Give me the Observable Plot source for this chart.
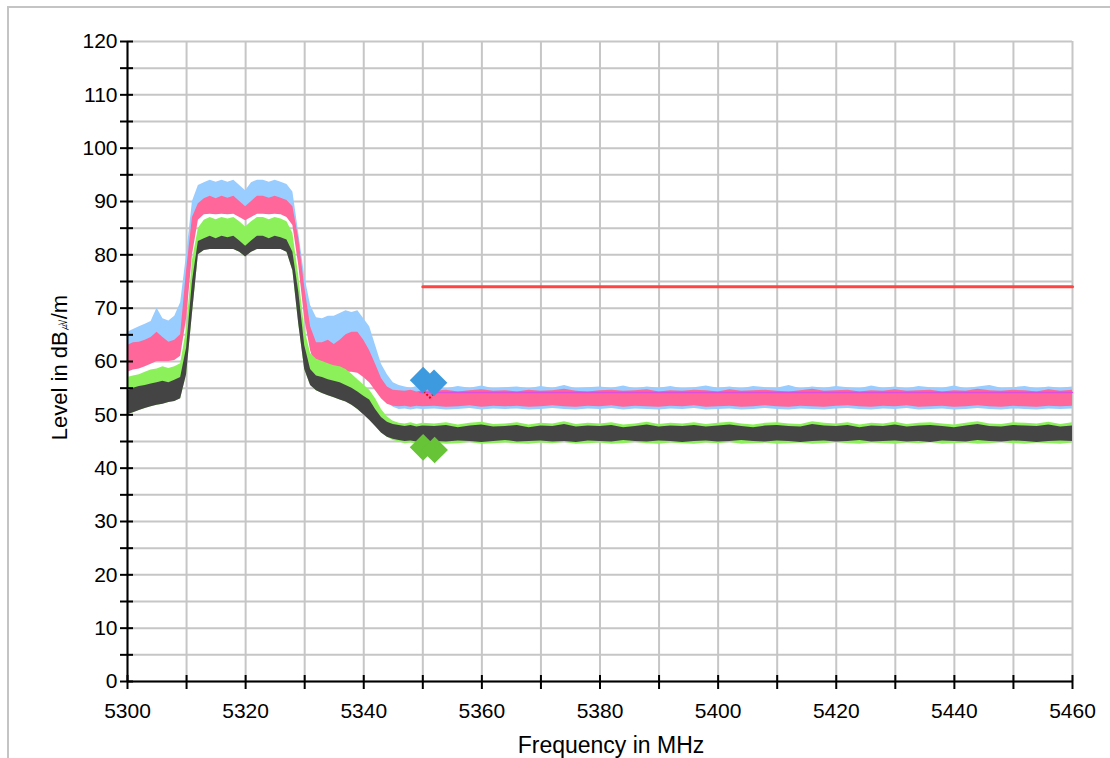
<!DOCTYPE html>
<html>
<head>
<meta charset="utf-8">
<script src="https://cdn.jsdelivr.net/npm/d3@7"></script>
<script src="https://cdn.jsdelivr.net/npm/@observablehq/plot@0.6"></script>
<style>
  html, body { margin: 0; padding: 0; background: white; }
</style>
</head>
<body>
<div id="chart"></div>
<script>
// Sampling grid (MHz)
const freqs = [...d3.range(5300, 5351, 1), ...d3.range(5352, 5461, 2)];

// Traces, read as min/max envelopes (dBµV/m)
const grayLo = [
  50.0, 50.4, 50.8, 51.2, 51.5, 51.8, 52.0, 52.3, 52.5, 53.0,
  57.5, 69.0, 80.0, 80.8, 81.0, 81.0, 81.0, 81.0, 81.0, 80.5,
  79.6, 80.5, 81.0, 81.0, 81.0, 81.0, 81.0, 80.5, 77.0, 67.0,
  58.5, 55.5, 54.5, 54.0, 53.6, 53.2, 52.8, 52.4, 51.8, 51.0,
  50.0, 49.0, 47.8, 46.6, 45.8, 45.4, 45.2, 45.0, 45.1, 44.9, 45.0,
  45.0, 44.9, 45.1, 45.0, 44.8, 45.0, 45.2, 44.9, 45.0, 45.1,
  44.9, 45.0, 44.8, 45.1, 45.0, 44.9, 45.2, 45.0, 44.9, 45.1,
  45.0, 44.8, 45.0, 45.1, 44.9, 45.0, 45.2, 45.0, 44.9, 45.1,
  45.0, 44.8, 45.0, 45.1, 44.9, 45.0, 45.2, 44.9, 45.0, 45.1,
  44.9, 45.0, 44.8, 45.1, 45.0, 44.9, 45.2, 45.0, 44.9, 45.1,
  45.0, 44.8, 45.0, 45.1, 45.0
];
const grayHi = [
  54.5, 55.0, 55.3, 55.5, 55.8, 56.0, 56.3, 56.0, 56.5, 57.0,
  62.5, 75.0, 82.5, 83.0, 83.5, 83.0, 83.5, 83.2, 83.5, 82.6,
  81.6, 82.6, 83.5, 83.5, 83.0, 83.5, 83.2, 82.8, 80.5, 73.0,
  63.0, 58.5, 57.3, 57.0, 56.6, 56.3, 56.0, 55.5, 55.0, 54.3,
  53.5, 52.8, 51.0, 49.5, 48.6, 48.2, 48.0, 47.8, 48.0, 47.7, 47.9,
  47.8, 48.0, 47.6, 47.9, 48.1, 47.7, 47.8, 48.0, 47.6, 47.9,
  47.8, 48.2, 47.7, 47.9, 47.8, 48.0, 47.6, 47.8, 48.1, 47.7,
  47.9, 47.8, 48.0, 47.7, 47.9, 48.1, 47.8, 47.6, 47.9, 48.0,
  47.8, 47.7, 48.2, 47.9, 47.8, 48.0, 47.6, 47.9, 47.8, 48.1,
  47.7, 47.9, 48.0, 47.8, 47.6, 47.9, 48.2, 47.8, 47.7, 48.0,
  47.9, 47.8, 48.1, 47.7, 47.9
];
const greenLo = [
  50.0, 50.4, 50.8, 51.2, 51.5, 51.8, 52.0, 52.3, 52.5, 53.0,
  57.5, 69.0, 80.0, 80.8, 81.0, 81.0, 81.0, 81.0, 81.0, 80.5,
  79.6, 80.5, 81.0, 81.0, 81.0, 81.0, 81.0, 80.5, 77.0, 67.0,
  58.5, 55.5, 54.5, 54.0, 53.6, 53.2, 52.8, 52.4, 51.8, 51.0,
  50.0, 49.0, 47.8, 46.6, 45.8, 45.2, 44.9, 44.6, 44.7, 44.5, 44.6,
  44.7, 44.5, 44.6, 44.8, 44.5, 44.6, 44.7, 44.6, 44.5, 44.7,
  44.6, 44.8, 44.5, 44.6, 44.7, 44.5, 44.6, 44.8, 44.6, 44.5,
  44.7, 44.6, 44.5, 44.7, 44.6, 44.8, 44.5, 44.6, 44.7, 44.5,
  44.6, 44.7, 44.5, 44.6, 44.8, 44.6, 44.5, 44.7, 44.6, 44.5,
  44.7, 44.6, 44.8, 44.5, 44.6, 44.7, 44.5, 44.6, 44.8, 44.6,
  44.5, 44.7, 44.6, 44.5, 44.7
];
const greenHi = [
  57.0, 57.3, 57.5, 58.0, 58.4, 58.6, 59.0, 58.7, 59.0, 59.6,
  66.0, 79.0, 85.0, 86.5, 87.0, 86.6, 87.0, 86.7, 87.0, 86.2,
  85.2, 86.2, 87.0, 87.0, 86.6, 87.0, 86.7, 86.2, 84.0, 76.0,
  66.0, 61.5, 60.4, 60.0, 59.6, 59.2, 59.0, 58.5, 57.6, 56.6,
  55.6, 54.6, 53.0, 51.0, 49.6, 48.8, 48.4, 48.3, 48.5, 48.2, 48.4,
  48.3, 48.5, 48.1, 48.4, 48.6, 48.2, 48.3, 48.5, 48.1, 48.4,
  48.3, 48.7, 48.2, 48.4, 48.3, 48.5, 48.1, 48.3, 48.6, 48.2,
  48.4, 48.3, 48.5, 48.2, 48.4, 48.6, 48.3, 48.1, 48.4, 48.5,
  48.3, 48.2, 48.7, 48.4, 48.3, 48.5, 48.1, 48.4, 48.3, 48.6,
  48.2, 48.4, 48.5, 48.3, 48.1, 48.4, 48.7, 48.3, 48.2, 48.5,
  48.4, 48.3, 48.6, 48.2, 48.5
];
const pinkLo = [
  58.0, 58.4, 58.6, 59.0, 59.5, 60.0, 60.0, 60.0, 60.2, 61.0,
  68.0, 80.0, 86.5, 87.5, 87.6, 87.5, 87.6, 87.5, 87.6, 87.0,
  86.4, 87.0, 87.6, 87.6, 87.5, 87.6, 87.5, 87.0, 85.5, 78.0,
  68.0, 62.0, 58.6, 58.2, 58.0, 57.6, 57.6, 58.0, 58.0, 57.8,
  57.0, 56.0, 54.5, 53.0, 52.0, 51.6, 51.5, 51.6, 51.4, 51.6, 51.5,
  51.6, 51.4, 51.5, 51.7, 51.4, 51.6, 51.5, 51.6, 51.4, 51.5,
  51.7, 51.5, 51.4, 51.6, 51.5, 51.7, 51.4, 51.6, 51.5, 51.4,
  51.6, 51.5, 51.7, 51.4, 51.5, 51.6, 51.4, 51.5, 51.7, 51.5,
  51.4, 51.6, 51.5, 51.4, 51.6, 51.7, 51.5, 51.4, 51.6, 51.5,
  51.7, 51.4, 51.5, 51.6, 51.4, 51.5, 51.7, 51.5, 51.4, 51.6,
  51.5, 51.4, 51.6, 51.5, 51.6
];
const pinkHi = [
  63.0, 63.5, 63.6, 64.0, 64.5, 65.5, 64.5, 63.6, 64.0, 65.0,
  77.0, 87.0, 89.6, 90.5, 91.0, 90.5, 91.0, 90.6, 91.0, 90.0,
  89.0, 90.0, 91.0, 91.0, 90.6, 91.0, 90.6, 90.2, 89.0, 83.0,
  74.0, 66.5, 63.5, 63.5, 64.0, 63.2, 64.0, 65.0, 65.5, 65.5,
  64.0, 62.0, 59.5, 56.8, 55.2, 54.6, 54.5, 54.4, 54.6, 54.3, 54.5,
  54.4, 54.6, 54.3, 54.5, 54.7, 54.4, 54.5, 54.3, 54.6, 54.4,
  54.5, 54.8, 54.4, 54.3, 54.5, 54.6, 54.4, 54.5, 54.7, 54.3,
  54.5, 54.4, 54.6, 54.5, 54.3, 54.7, 54.4, 54.5, 54.6, 54.4,
  54.3, 54.5, 54.8, 54.4, 54.5, 54.6, 54.3, 54.5, 54.4, 54.7,
  54.4, 54.5, 54.6, 54.3, 54.5, 54.4, 54.8, 54.5, 54.4, 54.6,
  54.5, 54.3, 54.7, 54.4, 54.6
];
const blueLo = [
  59.0, 59.4, 59.6, 60.0, 60.5, 61.0, 61.0, 61.0, 61.2, 62.0,
  69.0, 81.0, 87.5, 88.5, 88.6, 88.5, 88.6, 88.5, 88.6, 88.0,
  87.4, 88.0, 88.6, 88.6, 88.5, 88.6, 88.5, 88.0, 86.5, 79.0,
  69.0, 63.0, 59.6, 59.2, 59.0, 58.6, 58.6, 59.0, 59.0, 58.8,
  58.0, 57.0, 55.5, 54.0, 52.5, 51.4, 51.0, 51.1, 50.9, 51.1, 51.0,
  51.1, 50.9, 51.0, 51.2, 50.9, 51.1, 51.0, 51.1, 50.9, 51.0,
  51.2, 51.0, 50.9, 51.1, 51.0, 51.2, 50.9, 51.1, 51.0, 50.9,
  51.1, 51.0, 51.2, 50.9, 51.0, 51.1, 50.9, 51.0, 51.2, 51.0,
  50.9, 51.1, 51.0, 50.9, 51.1, 51.2, 51.0, 50.9, 51.1, 51.0,
  51.2, 50.9, 51.0, 51.1, 50.9, 51.0, 51.2, 51.0, 50.9, 51.1,
  51.0, 50.9, 51.1, 51.0, 51.1
];
const blueHi = [
  65.5, 66.0, 66.5, 67.0, 67.5, 70.0, 68.0, 67.6, 68.5, 71.0,
  80.0, 90.0, 93.0, 93.5, 94.0, 93.6, 94.0, 93.6, 94.0, 93.0,
  92.0, 93.5, 94.0, 94.0, 93.6, 94.0, 93.6, 93.2, 91.8, 84.0,
  76.0, 70.5, 68.2, 68.0, 68.5, 68.5, 69.0, 69.5, 69.2, 69.5,
  68.0, 66.5, 63.0, 59.5, 57.5, 56.0, 55.5, 55.2, 55.0, 55.3, 55.0,
  55.2, 54.9, 55.3, 55.0, 55.4, 54.9, 55.1, 55.2, 54.9, 55.3,
  55.0, 55.5, 54.9, 55.1, 55.2, 55.0, 55.4, 54.9, 55.2, 55.0,
  55.3, 54.9, 55.1, 55.4, 55.0, 55.2, 54.9, 55.3, 55.1, 55.0,
  55.5, 54.9, 55.2, 55.0, 55.3, 55.1, 54.9, 55.4, 55.0, 55.2,
  54.9, 55.3, 55.1, 55.0, 55.4, 54.9, 55.2, 55.5, 55.0, 55.1,
  55.3, 54.9, 55.2, 55.0, 55.2
];

// Limit line and average line
const limitFreqs = [5350, 5460];
const limitLevel = 74;
const avgFreqs = [5349.5, 5460];
const avgLevel = 54.2;

// Markers
const blueMarkFreqs = [5350.05, 5351.9];
const blueMarkLevels = [56.5, 56.0];
const greenMarkFreqs = [5350.05, 5352.0];
const greenMarkLevels = [43.9, 43.4];
const redMarkFreqs = [5351.2];
const redMarkLevels = [54.9];

// Axis ticks
const xGrid = d3.range(5300, 5461, 10);
const xLabels = [5300, 5320, 5340, 5360, 5380, 5400, 5420, 5440, 5460];
const yGrid = d3.range(0, 121, 5);
const yLabels = [0, 10, 20, 30, 40, 50, 60, 70, 80, 90, 100, 110, 120];

const xTitle = "Frequency in MHz";
const yTitle = "Level in dB\u33B6/m";

const rows = freqs.map((f, i) => ({
  f,
  grayLo: grayLo[i], grayHi: grayHi[i],
  greenLo: greenLo[i], greenHi: greenHi[i],
  pinkLo: pinkLo[i], pinkHi: pinkHi[i],
  blueLo: blueLo[i], blueHi: blueHi[i]
}));
const limitRows = limitFreqs.map(f => ({f, v: limitLevel}));
const avgRows = avgFreqs.map(f => ({f, v: avgLevel}));
const blueMarks = blueMarkFreqs.map((f, i) => ({f, v: blueMarkLevels[i]}));
const greenMarks = greenMarkFreqs.map((f, i) => ({f, v: greenMarkLevels[i]}));
const redMarks = redMarkFreqs.map((f, i) => ({f, v: redMarkLevels[i]}));

const gridColor = "#c6c6c6";

const chart = Plot.plot({
  width: 1110,
  height: 758,
  marginLeft: 127,
  marginRight: 38,
  marginTop: 41,
  marginBottom: 77,
  x: {domain: [5300, 5460], label: null},
  y: {domain: [0, 120], label: null},
  style: {
    fontFamily: "'Liberation Sans', Arial, sans-serif",
    fontSize: "21px",
    background: "white",
    color: "black",
    overflow: "visible"
  },
  marks: [
    Plot.ruleY(yGrid, {stroke: gridColor, strokeWidth: 2}),
    Plot.ruleX(xGrid, {stroke: gridColor, strokeWidth: 2}),
    Plot.areaY(rows, {x: "f", y1: "blueLo", y2: "blueHi", fill: "#99ccff"}),
    Plot.areaY(rows, {x: "f", y1: "pinkLo", y2: "pinkHi", fill: "#ff6699"}),
    Plot.line(avgRows, {x: "f", y: "v", stroke: "#e04ee0", strokeWidth: 1.5}),
    Plot.areaY(rows, {x: "f", y1: "greenLo", y2: "greenHi", fill: "#8cf05a"}),
    Plot.areaY(rows, {x: "f", y1: "grayLo", y2: "grayHi", fill: "#444444"}),
    Plot.line(limitRows, {x: "f", y: "v", stroke: "#ff4444", strokeWidth: 3}),
    Plot.dot(redMarks, {x: "f", y: "v", symbol: "diamond2", r: 8, fill: "none", stroke: "#ee0000", strokeWidth: 2, strokeDasharray: "2,2"}),
    Plot.dot(blueMarks, {x: "f", y: "v", symbol: "diamond2", r: 12, fill: "#3d9ade", stroke: "none"}),
    Plot.dot(greenMarks, {x: "f", y: "v", symbol: "diamond2", r: 12, fill: "#66c436", stroke: "none"}),
    Plot.ruleY([0], {stroke: "black", strokeWidth: 2}),
    Plot.ruleX([5300], {stroke: "black", strokeWidth: 2}),
    Plot.axisX({ticks: xGrid, tickSize: 14, dy: -6, tickFormat: () => "", strokeWidth: 2, stroke: "black"}),
    Plot.axisX({ticks: xLabels, tickSize: 0, tickPadding: 22, tickFormat: d => String(d), fontSize: 21}),
    Plot.axisY({ticks: yGrid, tickSize: 13, dx: 6, tickFormat: () => "", strokeWidth: 2, stroke: "black"}),
    Plot.axisY({ticks: yLabels, tickSize: 0, tickPadding: 10, tickFormat: d => String(d), fontSize: 21}),
    Plot.text([xTitle], {frameAnchor: "bottom", dx: 11, dy: 64, lineAnchor: "middle", fontSize: 23}),
    Plot.text([yTitle], {frameAnchor: "left", dx: -68, dy: 6, rotate: -90, lineAnchor: "middle", textAnchor: "middle", fontSize: 22})
  ]
});

// Make the unit glyph narrow, as in the reference
d3.select(chart).selectAll("text").filter(function() { return this.textContent === yTitle; })
  .each(function() {
    const t = d3.select(this);
    t.text(null);
    t.append("tspan").text("Level in dB");
    t.append("tspan").attr("font-size", 12).text("\u33B6");
    t.append("tspan").text("/m");
  });

d3.select(chart).append("rect")
  .attr("x", 8).attr("y", 7)
  .attr("width", 1120).attr("height", 770)
  .attr("fill", "none")
  .attr("stroke", "#c4c4c4")
  .attr("stroke-width", 2);

document.getElementById("chart").appendChild(chart);
</script>
</body>
</html>
